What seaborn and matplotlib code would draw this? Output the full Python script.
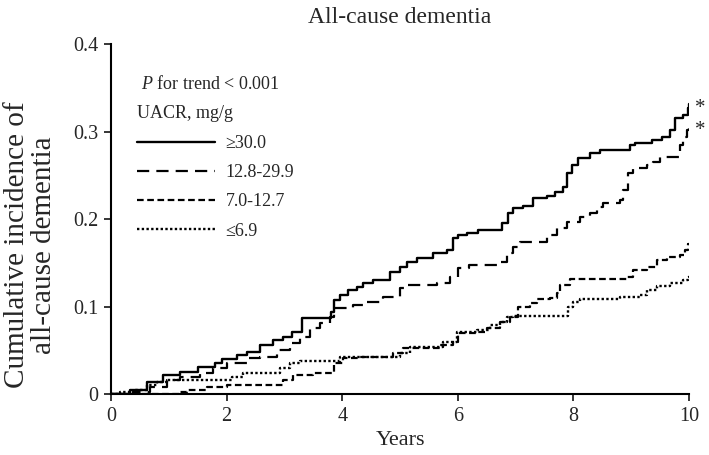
import matplotlib
matplotlib.use("Agg")
import matplotlib.pyplot as plt
import seaborn as sns

# ── data ──
groups = ["\u226530.0", "12.8-29.9", "7.0-12.7", "\u22646.9"]

t_ge30 = [0, 0.33, 0.62, 0.9, 1.2, 1.5, 1.8, 1.92, 2.18, 2.35, 2.58, 2.8, 2.98, 3.13, 3.3,
          3.8, 3.85, 3.96, 4.1, 4.25, 4.36, 4.53, 4.83, 5.0, 5.12, 5.29, 5.57, 5.81, 5.92,
          6.0, 6.16, 6.35, 6.77, 6.87, 6.96, 7.13, 7.3, 7.54, 7.68, 7.82, 7.89, 7.98, 8.08,
          8.29, 8.46, 8.98, 9.07, 9.36, 9.53, 9.67, 9.76, 9.9, 9.98, 10.0]
y_ge30 = [0, 0.005, 0.014, 0.022, 0.025, 0.031, 0.035, 0.04, 0.045, 0.048, 0.056, 0.062,
          0.065, 0.071, 0.087, 0.094, 0.107, 0.113, 0.119, 0.122, 0.127, 0.130, 0.140, 0.145,
          0.151, 0.155, 0.161, 0.165, 0.178, 0.182, 0.184, 0.187, 0.195, 0.207, 0.213, 0.215,
          0.224, 0.226, 0.231, 0.237, 0.253, 0.262, 0.27, 0.275, 0.279, 0.285, 0.287, 0.29,
          0.294, 0.302, 0.315, 0.319, 0.327, 0.331]

t_128 = [0, 0.38, 0.67, 0.97, 1.2, 1.54, 1.77, 2.0, 2.35, 2.58, 2.87, 3.1, 3.27, 3.44, 3.62,
         3.79, 3.85, 4.19, 4.43, 4.7, 5.0, 5.12, 5.64, 5.87, 6.0, 6.2, 6.73, 6.85, 6.96, 7.08,
         7.54, 7.72, 7.89, 8.11, 8.29, 8.41, 8.51, 8.81, 8.86, 8.94, 9.03, 9.27, 9.38, 9.5,
         9.84, 9.9, 9.97, 10.0]
y_128 = [0, 0.002, 0.008, 0.016, 0.02, 0.024, 0.03, 0.035, 0.041, 0.042, 0.05, 0.058, 0.065,
         0.075, 0.081, 0.088, 0.098, 0.102, 0.105, 0.111, 0.121, 0.125, 0.127, 0.134, 0.144,
         0.147, 0.151, 0.161, 0.168, 0.174, 0.182, 0.19, 0.197, 0.202, 0.207, 0.214, 0.218,
         0.222, 0.233, 0.253, 0.258, 0.262, 0.265, 0.271, 0.285, 0.294, 0.302, 0.306]

t_70 = [0, 1.2, 1.32, 1.66, 2.0, 2.98, 3.15, 3.5, 3.85, 4.01, 4.3, 4.88, 5.05, 5.69, 5.92,
        6.0, 6.33, 6.5, 6.73, 6.9, 7.04, 7.25, 7.37, 7.6, 7.72, 7.77, 7.94, 8.93, 9.03, 9.27,
        9.45, 9.62, 9.84, 9.93, 9.98, 10.0]
y_70 = [0, 0.002, 0.005, 0.008, 0.01, 0.016, 0.022, 0.024, 0.035, 0.041, 0.042, 0.047, 0.053,
        0.056, 0.06, 0.07, 0.071, 0.075, 0.082, 0.088, 0.099, 0.104, 0.109, 0.11, 0.115, 0.125,
        0.131, 0.134, 0.142, 0.145, 0.153, 0.157, 0.159, 0.165, 0.172, 0.173]

t_le69 = [0, 0.16, 0.38, 0.62, 0.8, 0.97, 2.1, 2.28, 2.92, 3.1, 3.27, 3.96, 5.0, 5.17, 5.74,
          5.98, 6.33, 6.56, 6.73, 6.85, 6.96, 7.9, 7.99, 8.11, 8.81, 9.15, 9.27, 9.45, 9.67,
          9.9, 9.98, 10.0]
y_le69 = [0, 0.002, 0.005, 0.01, 0.014, 0.016, 0.02, 0.024, 0.03, 0.035, 0.038, 0.042, 0.047,
          0.054, 0.06, 0.071, 0.073, 0.079, 0.082, 0.088, 0.089, 0.099, 0.105, 0.109, 0.111,
          0.113, 0.119, 0.123, 0.127, 0.13, 0.134, 0.135]

x_ticks = [0, 2, 4, 6, 8, 10]
y_ticks = [0, 0.1, 0.2, 0.3, 0.4]
y_ticklabels = ["0", "0.1", "0.2", "0.3", "0.4"]
starred = [0, 1]  # groups marked with *

# ── style ──
sns.set_style("ticks")
plt.rcParams["font.family"] = ["Liberation Serif", "DejaVu Serif"]
plt.rcParams["mathtext.fontset"] = "custom"
plt.rcParams["mathtext.it"] = "Liberation Serif:italic"
plt.rcParams["mathtext.rm"] = "Liberation Serif"

series = [(t_ge30, y_ge30), (t_128, y_128), (t_70, y_70), (t_le69, y_le69)]
styles = [
    dict(linestyle="-", linewidth=1.7),
    dict(linestyle=(0, (5.5, 3.2)), linewidth=1.6),
    dict(linestyle=(0, (3.0, 1.6)), linewidth=1.6),
    dict(linestyle=(0, (1.0, 1.0)), linewidth=1.7),
]

fig = plt.figure(figsize=(7.09, 4.55), dpi=100)
ax = fig.add_axes([0.1566, 0.134, 0.8152, 0.769])

handles = []
for (t, y), st, lab in zip(series, styles, groups):
    sns.lineplot(x=t, y=y, ax=ax, color="black", drawstyle="steps-post",
                 estimator=None, sort=False, label=lab, **st)
    handles.append(ax.lines[-1])

# asterisks at the end of the significant curves
for i in starred:
    t, y = series[i]
    ax.annotate("*", xy=(t[-1], y[-1]), xytext=(4, -3), textcoords="offset points",
                fontsize=15, ha="left", va="center", annotation_clip=False)

ax.set_xlim(0, 10)
ax.set_ylim(0, 0.4)
ax.set_xticks(x_ticks)
ax.set_yticks(y_ticks)
ax.set_yticklabels(y_ticklabels)
ax.tick_params(axis="both", labelsize=14.5, direction="out", length=5, width=1.3, pad=4)
for side in ["left", "bottom"]:
    ax.spines[side].set_linewidth(1.5)
    ax.spines[side].set_color("black")
sns.despine(ax=ax)

ax.set_title("All-cause dementia", fontsize=17, pad=15)
ax.set_xlabel("Years", fontsize=16, labelpad=4)
ax.set_ylabel("Cumulative incidence of\nall-cause dementia", fontsize=21, linespacing=1.05)
ax.yaxis.set_label_coords(-0.094, 0.426)

ax.text(0.052, 0.885, r"$\it{P}$ for trend < 0.001", transform=ax.transAxes,
        fontsize=13, ha="left", va="center")
leg = ax.legend(handles, groups, loc="upper left", bbox_to_anchor=(0.045, 0.825),
                frameon=False, fontsize=13, title="UACR, mg/g", title_fontsize=13,
                alignment="left", handlelength=4.3, handletextpad=0.6,
                labelspacing=0.68, borderpad=0, borderaxespad=0)
leg._legend_box.sep = 9

fig.savefig("out.png", dpi=100)
